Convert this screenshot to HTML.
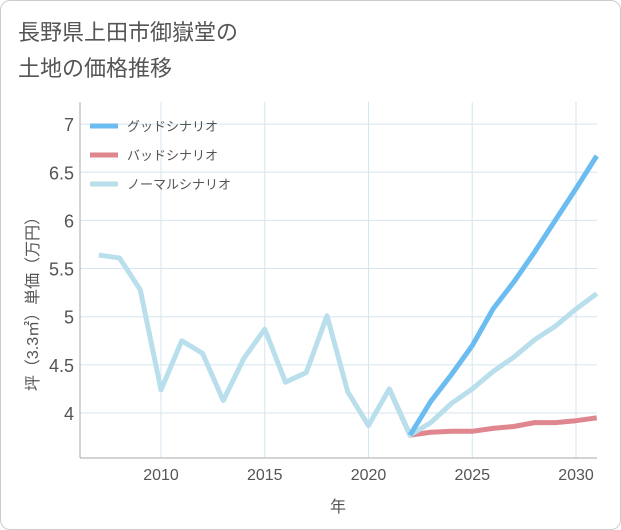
<!DOCTYPE html>
<html><head><meta charset="utf-8"><style>
body{margin:0;background:#fff;}
#card{position:absolute;left:0;top:0;width:619px;height:528px;border:1px solid #ccc;border-radius:10px;background:#fff;}
.t{font-family:"Liberation Sans","Noto Sans CJK JP",sans-serif;}
</style></head><body>
<div id="card">
<svg id="svg" width="621" height="530" style="position:absolute;left:-1px;top:-1px">
<text class="t" x="18" y="40" font-size="22" fill="#555">長野県上田市御嶽堂の</text>
<text class="t" x="18" y="76" font-size="22" fill="#555">土地の価格推移</text>
<g id="plot"></g>
</svg></div>
<script>
const years=[2007,2008,2009,2010,2011,2012,2013,2014,2015,2016,2017,2018,2019,2020,2021,2022,2023,2024,2025,2026,2027,2028,2029,2030,2031];
const normal=[5.64,5.61,5.28,4.24,4.75,4.62,4.13,4.57,4.87,4.32,4.42,5.01,4.22,3.87,4.25,3.77,3.90,4.10,4.25,4.43,4.58,4.76,4.90,5.08,5.24];
const predYears=[2021,2022,2023,2024,2025,2026,2027,2028,2029,2030,2031];
const good=[null,3.77,4.12,4.40,4.70,5.08,5.36,5.67,6.00,6.33,6.67];
const bad=[4.25,3.77,3.80,3.81,3.81,3.84,3.86,3.90,3.90,3.92,3.95];
const yTicks=[4,4.5,5,5.5,6,6.5,7];
const xTicks=[2010,2015,2020,2025,2030];
const L=80,R=597,T=102,B=458;
const x=v=>161+(v-2010)*20.75;
const y=v=>413-(v-4)*96.3;
const g=document.getElementById('plot');
const NS='http://www.w3.org/2000/svg';
function mk(tag,attrs,name){const e=document.createElementNS(NS,tag);for(const k in attrs)e.setAttribute(k,attrs[k]);


g.appendChild(e);return e;}
yTicks.forEach(v=>{mk('line',{x1:L,x2:R,y1:y(v),y2:y(v),stroke:'#d5e6f0'},'y-gridline');
const t=mk('text',{x:L-6,y:y(v)+7,'text-anchor':'end','font-size':18,fill:'#555',class:'t'},'y-tick-label');t.textContent=v;});
xTicks.forEach(v=>{mk('line',{x1:x(v),x2:x(v),y1:T,y2:B,stroke:'#d5e6f0'},'x-gridline');
const t=mk('text',{x:x(v),y:B+22,'text-anchor':'middle','font-size':16,fill:'#555',class:'t'},'x-tick-label');t.textContent=v;});
mk('line',{x1:L,x2:L,y1:T,y2:B,stroke:'#aaa'},'y-axis-line');
mk('line',{x1:L,x2:R,y1:B,y2:B,stroke:'#aaa'},'x-axis-line');
function path(xs,vs,color,name){let d='';xs.forEach((xv,i)=>{if(vs[i]==null)return;d+=(d?'L':'M')+x(xv)+','+y(vs[i]);});
mk('path',{d:d,fill:'none',stroke:color,'stroke-width':5,'stroke-linejoin':'round'},name);}
path(predYears,bad,'#e0868e','bad-scenario-line');
path(years,normal,'#b9dfec','normal-scenario-line');
path(predYears,good,'#6bbcf0','good-scenario-line');
const leg=[['グッドシナリオ','#6bbcf0'],['バッドシナリオ','#e0868e'],['ノーマルシナリオ','#b9dfec']];
leg.forEach((l,i)=>{const yy=126+i*29;mk('line',{x1:90,x2:118,y1:yy,y2:yy,stroke:l[1],'stroke-width':5},'legend-swatch');
const t=mk('text',{x:127,y:yy+5,'font-size':13,fill:'#555',class:'t'},'legend-entry');t.textContent=l[0];});
const xt=mk('text',{x:338,y:512,'text-anchor':'middle','font-size':16,fill:'#555',class:'t'},'x-axis-title');xt.textContent='年';
const yt=mk('text',{x:0,y:0,'text-anchor':'middle','font-size':16,fill:'#555',class:'t',transform:'translate(38,300) rotate(-90)'},'y-axis-title');yt.textContent='坪（3.3㎡）単価（万円）';
</script></body></html>
